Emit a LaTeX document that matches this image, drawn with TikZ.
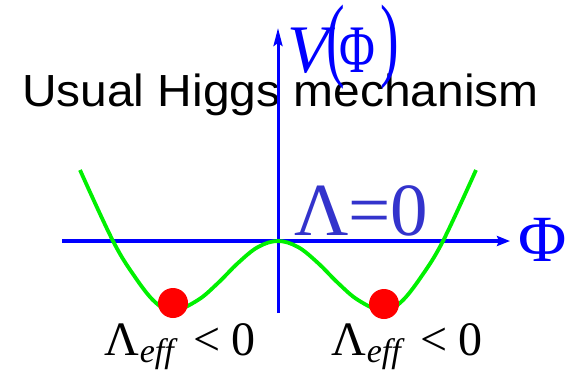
\documentclass[tikz,border=0pt]{standalone}
\usepackage{fontspec}
\usepackage{graphicx}
\setmainfont{Liberation Serif}
\newfontfamily\arialfont{Liberation Sans}
\usetikzlibrary{arrows.meta}
\definecolor{axisblue}{RGB}{0,0,255}
\definecolor{lamblue}{RGB}{51,51,204}
\definecolor{curvegreen}{RGB}{0,240,0}
\definecolor{dotred}{RGB}{255,0,0}
\begin{document}
\begin{tikzpicture}[x=1pt,y=-1pt,
  txt/.style={inner sep=0pt, outer sep=0pt},
  axisline/.style={draw=axisblue, line width=3.5pt},
  well/.style={draw=curvegreen, line width=3.8pt, line join=round},
  ball/.style={circle, fill=dotred, minimum size=30pt, inner sep=0pt}]
\useasboundingbox (0,0) rectangle (577,373);
% title
\node[txt, anchor=base west] (title) at (22,106) {\arialfont\fontsize{45}{50}\selectfont\scalebox{1.065}[1]{Usual Higgs mechanism}};
% axes
\coordinate (xl) at (62,241);
\coordinate (xr) at (510,241);
\coordinate (yb) at (278,313);
\coordinate (yt) at (278,28);
\draw[axisline, -{Stealth[length=13pt,width=10pt,inset=2pt]}] (xl) -- (xr);
\draw[axisline, line width=3pt, -{Stealth[length=18pt,width=9pt,inset=3pt]}] (yb) -- (yt);
% potential
\draw[well] plot[smooth, tension=0.6] coordinates {(80,170) (113,241) (135,277) (155,302) (173,311) (198,300) (218,283) (238,263) (258,247) (278,241) (298,247) (318,263) (338,283) (358,300) (383,311) (401,302) (421,277) (443,241) (476,170)};
% balls
\node[ball] (lball) at (173,303) {};
\node[ball] (rball) at (384,304) {};
% V(Phi)
\node[txt, anchor=base west, text=axisblue] (V) at (287,72) {\fontsize{68}{70}\selectfont\itshape V};
\node[txt, text=axisblue] (lp) at (336,47) {\scalebox{0.9}[1.5]{\fontsize{62}{64}\selectfont (}};
\node[txt, anchor=base, text=axisblue] (vphi) at (357,72) {\scalebox{0.72}[1]{\fontsize{68}{68}\selectfont Φ}};
\node[txt, text=axisblue] (rp) at (390,47) {\scalebox{0.9}[1.5]{\fontsize{62}{64}\selectfont )}};
% labels
\node[txt, anchor=base west, text=lamblue] (lam0) at (294,235) {\fontsize{75}{80}\selectfont Λ=0};
\node[txt, anchor=base west, text=axisblue] (phi) at (518,261) {\fontsize{66}{70}\selectfont Φ};
\node[txt, anchor=base west] (leff) at (104,355) {\fontsize{48}{50}\selectfont Λ\hspace{1pt}\raisebox{-7pt}{\fontsize{34}{36}\selectfont\itshape eff}\hspace{20pt}<\hspace{11pt}0};
\node[txt, anchor=base west] (reff) at (331,355) {\fontsize{48}{50}\selectfont Λ\hspace{1pt}\raisebox{-7pt}{\fontsize{34}{36}\selectfont\itshape eff}\hspace{20pt}<\hspace{11pt}0};
\end{tikzpicture}
\end{document}
